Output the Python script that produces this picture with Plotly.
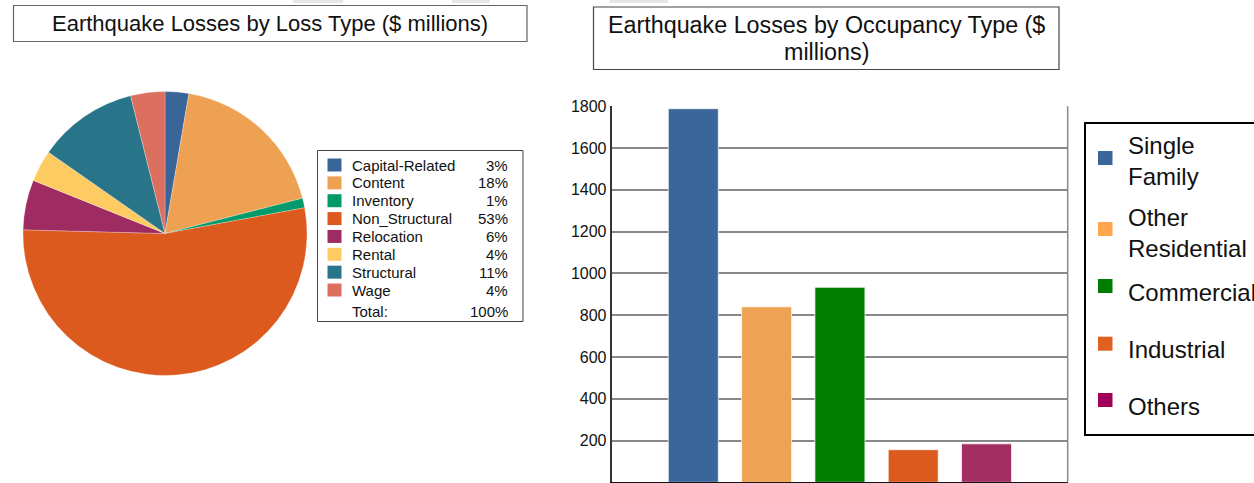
import plotly.graph_objects as go

W, H = 1254, 483

# ---------------- data ----------------
loss_types = ["Capital-Related", "Content", "Inventory", "Non_Structural",
              "Relocation", "Rental", "Structural", "Wage"]
loss_values = [105, 714, 43, 2079, 222, 140, 445, 152]  # $ millions (estimated)
loss_colors = ["#3A6598", "#EEA152", "#009A6B", "#DC5A1E",
               "#9E2B62", "#FDCB62", "#287489", "#DB7060"]

occupancy_types = ["Single Family", "Other Residential", "Commercial",
                   "Industrial", "Others"]
occupancy_values = [1788, 840, 933, 156, 184]  # $ millions (estimated)
occupancy_colors = ["#3B6699", "#EEA254", "#007C00", "#DD5A1F", "#A22E62"]
occupancy_legend_colors = ["#3B6699", "#FFA64F", "#007C00", "#E0601F", "#A3005A"]

y_ticks = [0, 200, 400, 600, 800, 1000, 1200, 1400, 1600, 1800]

pie_title = "Earthquake Losses by Loss Type ($ millions)"
bar_title_lines = ["Earthquake Losses by Occupancy Type ($", "millions)"]


def px(x):
    return x / W


def py(y):
    return 1 - y / H


FONT = "Arial, Liberation Sans, sans-serif"

fig = go.Figure()

# ---------------- pie ----------------
fig.add_trace(go.Pie(
    labels=loss_types, values=loss_values,
    marker=dict(colors=loss_colors, line=dict(color="rgba(255,255,255,0.5)", width=0.5)),
    sort=False, direction="clockwise", rotation=0,
    textinfo="none", showlegend=False,
    domain=dict(x=[px(23), px(307)], y=[py(376), py(91)]),
))

# ---------------- bars ----------------
for name, val, col in zip(occupancy_types, occupancy_values, occupancy_colors):
    fig.add_trace(go.Bar(
        x=[name], y=[val], name=name, showlegend=False,
        marker=dict(color=col, line=dict(color="rgba(255,255,255,0.7)", width=1)),
        width=0.682,
    ))

shapes = []
annotations = []

# title boxes
shapes.append(dict(type="rect", xref="paper", yref="paper",
                   x0=px(13.5), x1=px(527), y0=py(41.5), y1=py(5.5),
                   line=dict(color="#666666", width=1.2), fillcolor="white", layer="below"))
shapes.append(dict(type="rect", xref="paper", yref="paper",
                   x0=px(593.5), x1=px(1059), y0=py(69.5), y1=py(7),
                   line=dict(color="#444444", width=1.2), fillcolor="white", layer="below"))
annotations.append(dict(text=pie_title, xref="paper", yref="paper",
                        x=px(270), y=py(23.5), xanchor="center", yanchor="middle",
                        showarrow=False, font=dict(family=FONT, size=22, color="#111111")))
for line, yc in zip(bar_title_lines, [24.5, 52]):
    annotations.append(dict(text=line, xref="paper", yref="paper",
                            x=px(826), y=py(yc), xanchor="center", yanchor="middle",
                            showarrow=False, font=dict(family=FONT, size=23.3, color="#111111")))

# small grey tabs at very top
for a, b in [(293, 343), (452, 490), (610, 668)]:
    shapes.append(dict(type="rect", xref="paper", yref="paper",
                       x0=px(a), x1=px(b), y0=py(3), y1=py(0),
                       line=dict(width=0), fillcolor="#e6e6e6"))

# pie legend box
shapes.append(dict(type="rect", xref="paper", yref="paper",
                   x0=px(317.5), x1=px(523), y0=py(321.5), y1=py(150.5),
                   line=dict(color="#444444", width=1), fillcolor="white", layer="below"))
total = sum(loss_values)
row0, step = 165.0, 17.86
for i, (lab, val, col) in enumerate(zip(loss_types, loss_values, loss_colors)):
    yc = row0 + i * step
    shapes.append(dict(type="rect", xref="paper", yref="paper",
                       x0=px(327.5), x1=px(341.5), y0=py(yc + 6.5), y1=py(yc - 6.5),
                       line=dict(width=0), fillcolor=col))
    annotations.append(dict(text=lab, xref="paper", yref="paper",
                            x=px(350), y=py(yc), xanchor="left", yanchor="middle",
                            showarrow=False, font=dict(family=FONT, size=15, color="#111111")))
    annotations.append(dict(text=f"{round(val / total * 100)}%", xref="paper", yref="paper",
                            x=px(510), y=py(yc), xanchor="right", yanchor="middle",
                            showarrow=False, font=dict(family=FONT, size=15, color="#111111")))
annotations.append(dict(text="Total:", xref="paper", yref="paper",
                        x=px(350), y=py(311.5), xanchor="left", yanchor="middle",
                        showarrow=False, font=dict(family=FONT, size=15, color="#111111")))
annotations.append(dict(text="100%", xref="paper", yref="paper",
                        x=px(510), y=py(311.5), xanchor="right", yanchor="middle",
                        showarrow=False, font=dict(family=FONT, size=15, color="#111111")))

# bar legend (box, swatches, labels)
shapes.append(dict(type="rect", xref="paper", yref="paper",
                   x0=px(1085), x1=px(1260), y0=py(435), y1=py(123),
                   line=dict(color="#000000", width=2), fillcolor="white", layer="below"))
marker_centers = [158, 229, 286, 343.7, 400]
text_centers = [161, 233, 292, 349, 406]
for name, col, mc, tc in zip(occupancy_types, occupancy_legend_colors,
                             marker_centers, text_centers):
    shapes.append(dict(type="rect", xref="paper", yref="paper",
                       x0=px(1098), x1=px(1112.5), y0=py(mc + 7), y1=py(mc - 7),
                       line=dict(width=0), fillcolor=col))
    annotations.append(dict(text=name.replace(" ", "<br>"), xref="paper", yref="paper",
                            x=px(1126), y=py(tc), xanchor="left", yanchor="middle",
                            align="left", showarrow=False,
                            font=dict(family=FONT, size=24, color="#111111")))

# right border of bar plot
shapes.append(dict(type="line", xref="x domain", yref="y domain",
                   x0=1, x1=1, y0=0, y1=1, line=dict(color="#8a8a8a", width=1.5)))

fig.update_layout(
    width=W, height=H, autosize=False,
    margin=dict(l=0, r=0, t=0, b=0, autoexpand=False),
    paper_bgcolor="white", plot_bgcolor="white",
    barmode="overlay", showlegend=False,
    font=dict(family=FONT, color="#111111"),
    xaxis=dict(domain=[px(611.7), px(1067.7)], range=[-1.113, 5.107],
               showticklabels=False, ticks="", showgrid=False, zeroline=False,
               automargin=False,
               showline=True, linecolor="#111111", linewidth=2, fixedrange=True),
    yaxis=dict(domain=[py(482.3), py(106.2)], range=[0, 1800],
               tickvals=y_ticks, ticktext=[str(v) for v in y_ticks],
               tickfont=dict(family=FONT, size=16, color="#111111"),
               ticks="", automargin=False,
               showgrid=True, gridcolor="#888888", gridwidth=1.5, zeroline=False,
               showline=True, linecolor="#333333", linewidth=2, fixedrange=True),
    shapes=shapes, annotations=annotations,
    hovermode=False,
)

fig.write_html("out.html")
